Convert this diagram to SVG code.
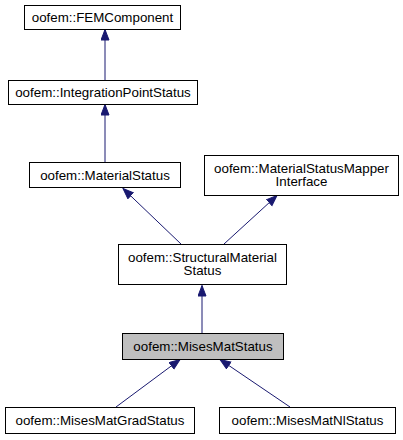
<svg xmlns="http://www.w3.org/2000/svg" width="403" height="440" viewBox="0 0 403 440">
<style>
.box{fill:#ffffff;stroke:#000000;stroke-width:1}
.hl{fill:#bfbfbf}
.lbl{font-family:"Liberation Sans",Arial,Helvetica,sans-serif;font-size:13.33px;text-anchor:middle;fill:#000000}
.edge{fill:none;stroke:#191970;stroke-width:1;marker-end:url(#arr)}
</style>
<defs>
<marker id="arr" markerUnits="userSpaceOnUse" markerWidth="12" markerHeight="10" refX="11" refY="4.5" orient="auto" viewBox="0 0 12 10">
<path d="M0.5,0.5 L11,4.5 L0.5,8.5 z" fill="#191970" stroke="#191970" stroke-width="1"/>
</marker>
</defs>
<rect width="403" height="440" fill="#ffffff"/>
<g id="connectors">
<path class="edge" d="M105,80 L105,29.5"/>
<path class="edge" d="M105,162 L105,104.5"/>
<path class="edge" d="M181,244 L123,188.5"/>
<path class="edge" d="M224,244 L277,195.5"/>
<path class="edge" d="M202,333 L202,285.5"/>
<path class="edge" d="M116,407 L180,359.5"/>
<path class="edge" d="M290,407 L220,359.5"/>
</g>
<g id="FEMComponent">
<rect class="box" x="24.5" y="5.5" width="156" height="24"/>
<text class="lbl" x="102.5" y="22">oofem::FEMComponent</text>
</g>
<g id="IntegrationPointStatus">
<rect class="box" x="8.5" y="80.5" width="189" height="24"/>
<text class="lbl" x="103" y="97">oofem::IntegrationPointStatus</text>
</g>
<g id="MaterialStatus">
<rect class="box" x="29.5" y="162.5" width="151" height="25"/>
<text class="lbl" x="105" y="180">oofem::MaterialStatus</text>
</g>
<g id="MaterialStatusMapperInterface">
<rect class="box" x="204.5" y="155.5" width="194" height="40"/>
<text class="lbl" x="301.5" y="173">oofem::MaterialStatusMapper</text>
<text class="lbl" x="301.5" y="186">Interface</text>
</g>
<g id="StructuralMaterialStatus">
<rect class="box" x="118.5" y="244.5" width="168" height="40"/>
<text class="lbl" x="202.5" y="262">oofem::StructuralMaterial</text>
<text class="lbl" x="202.5" y="275">Status</text>
</g>
<g id="MisesMatStatus">
<rect class="box hl" x="122.5" y="333.5" width="161" height="26"/>
<text class="lbl" x="203" y="351">oofem::MisesMatStatus</text>
</g>
<g id="MisesMatGradStatus">
<rect class="box" x="5.5" y="407.5" width="189" height="26"/>
<text class="lbl" x="100" y="425">oofem::MisesMatGradStatus</text>
</g>
<g id="MisesMatNlStatus">
<rect class="box" x="219.5" y="407.5" width="176" height="26"/>
<text class="lbl" x="307.5" y="425">oofem::MisesMatNlStatus</text>
</g>
</svg>
